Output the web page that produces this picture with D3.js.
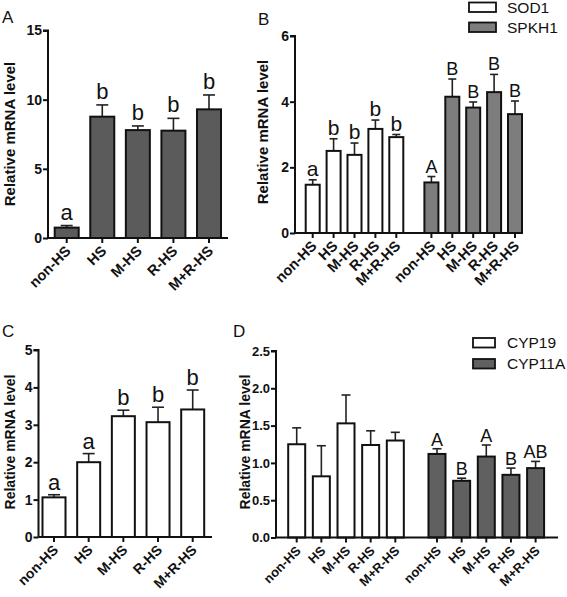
<!DOCTYPE html>
<html><head><meta charset="utf-8">
<script src="https://cdn.jsdelivr.net/npm/d3@7"></script>
<style>
html,body{margin:0;padding:0;background:#fff;}
svg{display:block;font-family:"Liberation Sans",Arial,sans-serif;}
</style></head>
<body>
<svg id="chart" width="567" height="597"></svg>
<script>
// ---------- DATA ----------
const categories = ["non-HS","HS","M-HS","R-HS","M+R-HS"];

const aValues  = [0.75, 8.77, 7.80, 7.76, 9.30];
const aErrors  = [0.15, 0.85, 0.30, 0.89, 1.04];
const aLetters = ["a","b","b","b","b"];
const aTicks   = [0, 5, 10, 15];

const bSeries   = ["SOD1","SPKH1"];
const sod1Values  = [1.47, 2.50, 2.38, 3.17, 2.92];
const sod1Errors  = [0.15, 0.37, 0.36, 0.27, 0.08];
const sod1Letters = ["a","b","b","b","b"];
const spkh1Values  = [1.54, 4.15, 3.82, 4.29, 3.62];
const spkh1Errors  = [0.18, 0.54, 0.17, 0.54, 0.40];
const spkh1Letters = ["A","B","B","B","B"];
const bTicks = [0, 2, 4, 6];

const cValues  = [1.06, 2.00, 3.23, 3.07, 3.41];
const cErrors  = [0.07, 0.23, 0.16, 0.40, 0.52];
const cLetters = ["a","a","b","b","b"];
const cTicks   = [0, 1, 2, 3, 4, 5];

const dSeries = ["CYP19","CYP11A"];
const cyp19Values  = [1.25, 0.82, 1.53, 1.24, 1.30];
const cyp19Errors  = [0.22, 0.41, 0.38, 0.19, 0.11];
const cyp19Letters = ["","","","",""];
const cyp11aValues  = [1.12, 0.76, 1.085, 0.84, 0.93];
const cyp11aErrors  = [0.07, 0.035, 0.155, 0.09, 0.09];
const cyp11aLetters = ["A","B","A","B","AB"];
const dTicks = [0, 0.5, 1.0, 1.5, 2.0, 2.5];

const yLabel = "Relative mRNA level";
const panelLabels = ["A","B","C","D"];

// ---------- DRAWING ----------
const svg = d3.select("#chart");
const FONT = '"Liberation Sans",Arial,sans-serif';

function panel(cfg){
  const g = svg.append("g");
  const y = d3.scaleLinear().domain(cfg.yDomain).range([cfg.y0, cfg.y1]);
  const x = d3.scaleLinear().domain(cfg.xDomain).range(cfg.xRange);

  cfg.groups.forEach((grp, gi) => {
    const off = gi * cfg.groupOffset;
    grp.values.forEach((v, i) => {
      const cx = x(off + i);
      const top = y(v + grp.errors[i]);
      g.append("line").attr("x1", cx).attr("x2", cx)
        .attr("y1", y(v)).attr("y2", top)
        .attr("stroke", "#222").attr("stroke-width", 1.6);
      g.append("line").attr("x1", cx - cfg.capW/2).attr("x2", cx + cfg.capW/2)
        .attr("y1", top).attr("y2", top)
        .attr("stroke", "#222").attr("stroke-width", 1.6);
      g.append("rect")
        .attr("x", cx - cfg.barW/2).attr("width", cfg.barW)
        .attr("y", y(v)).attr("height", y(0) - y(v))
        .attr("fill", grp.fill).attr("stroke", "#111").attr("stroke-width", 2);
      const L = grp.letters[i];
      if (L) {
        const isUpper = L === L.toUpperCase();
        g.append("text").attr("x", cx).attr("y", top - cfg.letterGap)
          .attr("text-anchor", "middle")
          .attr("font-size", isUpper ? cfg.upperSize : cfg.lowerSize)
          .attr("fill", "#111").text(L);
      }
    });
  });

  const ya = d3.axisLeft(y).tickValues(cfg.ticks).tickSize(5).tickPadding(1)
    .tickFormat(cfg.tickFmt);
  const yg = g.append("g").attr("transform", `translate(${cfg.xAxis},0)`).call(ya);
  yg.select(".domain").attr("stroke", "#111").attr("stroke-width", 2)
    .attr("d", `M-5,${cfg.y1}H0V${cfg.y0}`);
  yg.selectAll(".tick line").attr("stroke", "#111").attr("stroke-width", 2);
  yg.selectAll(".tick text").attr("font-family", FONT).attr("font-size", cfg.yTickSize)
    .attr("font-weight", "bold").attr("fill", "#111");

  g.append("line").attr("x1", cfg.xAxis).attr("x2", cfg.xEnd)
    .attr("y1", cfg.y0).attr("y2", cfg.y0)
    .attr("stroke", "#111").attr("stroke-width", 2);
  cfg.groups.forEach((grp, gi) => {
    const off = gi * cfg.groupOffset;
    categories.forEach((c, i) => {
      const cx = x(off + i);
      g.append("line").attr("x1", cx).attr("x2", cx)
        .attr("y1", cfg.y0).attr("y2", cfg.y0 + 5)
        .attr("stroke", "#111").attr("stroke-width", 2);
      g.append("text")
        .attr("transform", `translate(${cx + cfg.xlDx},${cfg.y0 + cfg.xlDy}) rotate(-45)`)
        .attr("text-anchor", "end").attr("font-weight", "bold")
        .attr("font-size", cfg.xTickSize).attr("fill", "#111").text(c);
    });
  });

  g.append("text")
    .attr("transform", `translate(${cfg.ylX},${cfg.ylY}) rotate(-90)`)
    .attr("text-anchor", "middle").attr("font-weight", "bold")
    .attr("font-size", cfg.ylSize).attr("fill", "#111").text(yLabel);

  g.append("text").attr("x", cfg.pX).attr("y", cfg.pY)
    .attr("font-size", 17).attr("fill", "#111").text(cfg.panel);

  if (cfg.legend) {
    cfg.groups.forEach((grp, gi) => {
      const ly = cfg.legend.y + gi * cfg.legend.dy;
      g.append("rect").attr("x", cfg.legend.x).attr("y", ly)
        .attr("width", cfg.legend.w).attr("height", cfg.legend.h)
        .attr("fill", grp.fill).attr("stroke", "#111").attr("stroke-width", 1.8);
      g.append("text").attr("x", cfg.legend.tx).attr("y", ly + cfg.legend.h/2 + 5.5)
        .attr("font-size", 15.5).attr("fill", "#111").text(grp.name);
    });
  }
}

panel({
  panel: panelLabels[0], pX: 2, pY: 23,
  yDomain: [0, 15], y0: 238, y1: 30.5, ticks: aTicks, tickFmt: d3.format("d"),
  xDomain: [0, 4], xRange: [66.7, 209], xAxis: 48, xEnd: 228,
  groupOffset: 0,
  groups: [{values: aValues, errors: aErrors, letters: aLetters, fill: "#5b5b5b"}],
  barW: 24, capW: 12, letterGap: 6, lowerSize: 22, upperSize: 18,
  yTickSize: 14, xTickSize: 14.5, xlDx: 5, xlDy: 14,
  ylX: 15, ylY: 134, ylSize: 15
});

panel({
  panel: panelLabels[1], pX: 258, pY: 25,
  yDomain: [0, 6], y0: 233, y1: 36, ticks: bTicks, tickFmt: d3.format("d"),
  xDomain: [0, 9.68], xRange: [312.7, 515], xAxis: 295, xEnd: 523,
  groupOffset: 5.68,
  groups: [
    {name: bSeries[0], values: sod1Values, errors: sod1Errors, letters: sod1Letters, fill: "#ffffff"},
    {name: bSeries[1], values: spkh1Values, errors: spkh1Errors, letters: spkh1Letters, fill: "#7d7d7d"}
  ],
  barW: 14, capW: 8, letterGap: 4, lowerSize: 21, upperSize: 18,
  yTickSize: 14, xTickSize: 14.5, xlDx: 5, xlDy: 14,
  ylX: 268, ylY: 132, ylSize: 15,
  legend: {x: 469, y: 2.5, dy: 20, w: 27, h: 9.5, tx: 507}
});

panel({
  panel: panelLabels[2], pX: 2, pY: 337,
  yDomain: [0, 5], y0: 537, y1: 350, ticks: cTicks, tickFmt: d3.format("d"),
  xDomain: [0, 4], xRange: [54, 192.7], xAxis: 38.5, xEnd: 212,
  groupOffset: 0,
  groups: [{values: cValues, errors: cErrors, letters: cLetters, fill: "#ffffff"}],
  barW: 23, capW: 12, letterGap: 5, lowerSize: 22, upperSize: 18,
  yTickSize: 14, xTickSize: 14, xlDx: 5, xlDy: 14,
  ylX: 15, ylY: 442, ylSize: 14
});

panel({
  panel: panelLabels[3], pX: 233, pY: 337,
  yDomain: [0, 2.5], y0: 537.5, y1: 351, ticks: dTicks, tickFmt: d3.format(".1f"),
  xDomain: [0, 9.69], xRange: [296.7, 535.6], xAxis: 276, xEnd: 558,
  groupOffset: 5.69,
  groups: [
    {name: dSeries[0], values: cyp19Values, errors: cyp19Errors, letters: cyp19Letters, fill: "#ffffff"},
    {name: dSeries[1], values: cyp11aValues, errors: cyp11aErrors, letters: cyp11aLetters, fill: "#606060"}
  ],
  barW: 17, capW: 9, letterGap: 3, lowerSize: 21, upperSize: 18,
  yTickSize: 13, xTickSize: 13, xlDx: 5, xlDy: 14,
  ylX: 250, ylY: 442, ylSize: 14,
  legend: {x: 473, y: 338, dy: 21, w: 22, h: 9.5, tx: 507}
});
</script>
</body></html>
